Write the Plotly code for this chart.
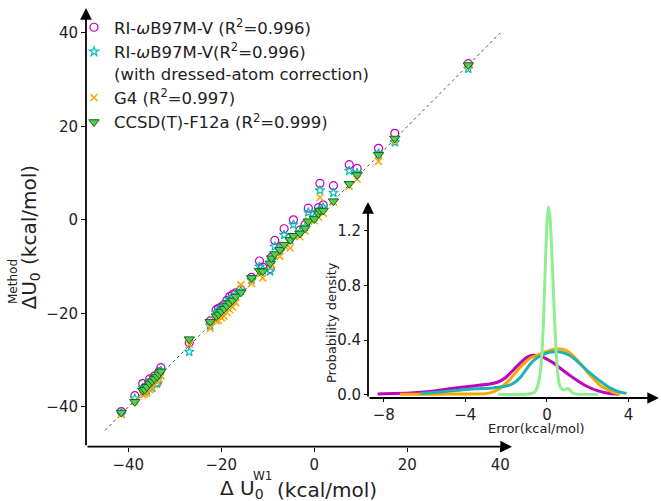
import plotly.graph_objects as go

W, H = 661, 501

# ---------------- data ----------------
w1 = [-41.5, -38.6, -36.9, -36.5, -36.0, -35.4, -34.9, -34.4, -33.8, -33.4, -33.0,
      -26.9, -22.4, -21.1, -20.6, -20.0, -19.4, -18.8, -18.2, -17.6, -16.9, -15.8,
      -13.5, -11.8, -11.1, -9.5, -9.2, -8.5, -7.4, -6.5, -5.2, -4.5, -3.1, -2.0,
      -1.3, 0.0, 0.9, 1.2, 1.9, 4.1, 7.5, 9.2, 13.8, 17.3, 33.1]
ri_wb97mv = [-41.0, -37.6, -35.0, -35.9, -35.6, -34.0, -34.5, -33.4, -34.8, -32.5, -31.6,
             -26.3, -21.6, -19.2, -18.9, -18.6, -18.1, -17.2, -16.4, -16.0, -15.6, -14.9,
             -12.3, -8.8, -10.1, -10.4, -8.0, -4.4, -6.0, -1.9, -3.8, 0.0, -2.2, -1.0,
             2.5, 1.0, 2.6, 7.8, 3.2, 7.3, 11.8, 11.0, 15.3, 18.5, 33.4]
ri_wb97mv_dac = [-41.3, -38.2, -35.9, -36.6, -36.5, -34.8, -35.9, -34.2, -35.0, -33.2, -32.3,
                 -28.2, -22.6, -19.8, -19.4, -19.2, -18.6, -17.8, -17.1, -16.6, -16.1, -15.2,
                 -12.8, -10.0, -10.6, -11.0, -8.6, -5.7, -6.5, -3.2, -4.3, -1.0, -2.6, -1.5,
                 1.6, 0.6, 2.0, 6.3, 2.6, 5.8, 10.5, 10.0, 14.2, 16.6, 32.3]
g4 = [-41.6, -38.9, -37.4, -37.2, -37.0, -36.3, -35.9, -35.2, -34.5, -34.0, -33.3,
      -26.6, -23.2, -21.6, -21.5, -20.9, -20.6, -19.8, -19.2, -18.6, -17.7, -13.9,
      -13.6, -11.2, -12.4, -9.8, -9.5, -7.6, -7.8, -5.6, -6.0, -3.5, -3.6, -2.4,
      -0.2, -0.2, 0.6, 4.8, 1.4, 3.8, 7.2, 8.7, 12.5, 16.8, 33.0]
ccsd_f12a = [-41.2, -38.9, -36.5, -36.3, -35.7, -35.0, -34.5, -34.0, -33.5, -33.0, -32.4,
             -25.5, -21.8, -20.6, -20.2, -19.6, -19.0, -18.4, -17.8, -17.2, -16.4, -15.5,
             -12.4, -10.9, -11.0, -9.3, -8.2, -7.3, -6.4, -5.3, -4.3, -3.4, -2.9, -1.8,
             -0.3, 0.2, 1.4, 2.0, 2.0, 4.0, 7.7, 9.6, 13.9, 17.4, 33.1]
diag_line = [-45, 40]

# error density curves (inset)
err_ri = [-8.3, -7.5, -6.5, -5.5, -4.8, -4.2, -3.5, -2.8, -2.4, -2.0, -1.6, -1.2, -0.9,
          -0.7, -0.4, -0.1, 0.3, 0.7, 1.1, 1.5, 2.0, 2.5, 3.0, 3.5]
dens_ri = [0.008, 0.01, 0.016, 0.03, 0.045, 0.057, 0.068, 0.08, 0.095, 0.13, 0.19, 0.25, 0.282,
           0.29, 0.285, 0.27, 0.235, 0.19, 0.145, 0.104, 0.06, 0.03, 0.013, 0.006]
err_g4 = [-7.2, -5.5, -4.0, -3.0, -2.6, -2.2, -1.8, -1.5, -1.2, -0.8, -0.5, -0.2, 0.2, 0.5,
          0.8, 1.1, 1.6, 2.0, 2.3, 2.6, 2.9, 3.3, 3.6]
dens_g4 = [0.006, 0.006, 0.007, 0.01, 0.025, 0.06, 0.116, 0.17, 0.22, 0.27, 0.29, 0.31, 0.328,
           0.337, 0.333, 0.31, 0.235, 0.165, 0.116, 0.07, 0.044, 0.015, 0.006]
err_dac = [-6.2, -5.2, -4.3, -3.5, -2.8, -2.4, -2.0, -1.6, -1.3, -1.0, -0.8, -0.5, -0.2, 0.15,
           0.47, 0.96, 1.3, 1.6, 2.0, 2.4, 2.8, 3.1, 3.5, 3.9]
dens_dac = [0.01, 0.022, 0.035, 0.045, 0.05, 0.057, 0.065, 0.09, 0.13, 0.19, 0.23, 0.27, 0.295,
            0.312, 0.318, 0.3, 0.27, 0.23, 0.175, 0.125, 0.08, 0.05, 0.025, 0.012]
err_ccsd = [-2.4, -1.0, -0.6, -0.45, -0.3, -0.18, -0.08, 0.0, 0.07, 0.15, 0.25, 0.33, 0.42,
            0.52, 0.62, 0.75, 0.9, 1.0, 1.1, 1.25, 1.5, 2.5]
dens_ccsd = [0.005, 0.005, 0.02, 0.07, 0.2, 0.5, 0.95, 1.25, 1.375, 1.3, 1.0, 0.7, 0.4,
             0.17, 0.07, 0.04, 0.04, 0.048, 0.04, 0.015, 0.006, 0.005]

main_ticks = [-40, -20, 0, 20, 40]
inset_xticks = [-8, -4, 0, 4]
inset_yticks = [0.0, 0.4, 0.8, 1.2]

legend_names = [
    "RI-<i>ω</i>B97M-V (R<sup>2</sup>=0.996)",
    "RI-<i>ω</i>B97M-V(R<sup>2</sup>=0.996)<br>(with dressed-atom correction)",
    "G4 (R<sup>2</sup>=0.997)",
    "CCSD(T)-F12a (R<sup>2</sup>=0.999)",
]

MAG = "#BF00BF"
CYA = "#00BFBF"
ORA = "#FFA500"
TEAL = "#1DB3B3"
LGREEN = "#90EE90"
TXT = "#222222"
FONT = "DejaVu Sans"

# ---------------- pixel helpers for layout ----------------
def px(x):
    return x / W

def py(y):
    return 1 - y / H

fig = go.Figure()

# diagonal reference line
fig.add_trace(go.Scatter(x=diag_line, y=diag_line, mode="lines",
                         line=dict(color="#555555", width=1, dash="dot"),
                         showlegend=False, hoverinfo="skip"))

fig.add_trace(go.Scatter(x=w1, y=ri_wb97mv, mode="markers", name=legend_names[0],
                         marker=dict(symbol="circle-open", size=8, color=MAG,
                                     line=dict(width=1.2, color=MAG)),
                         legendgroup="a"))
fig.add_trace(go.Scatter(x=w1, y=ri_wb97mv_dac, mode="markers", name=legend_names[1],
                         marker=dict(symbol="star-open", size=7, color=CYA,
                                     line=dict(width=1.2, color=CYA)),
                         legendgroup="b"))
fig.add_trace(go.Scatter(x=w1, y=g4, mode="markers", name=legend_names[2],
                         marker=dict(symbol="x-thin-open", size=7, color=ORA,
                                     line=dict(width=1.5, color=ORA)),
                         legendgroup="c"))
fig.add_trace(go.Scatter(x=w1, y=ccsd_f12a, mode="markers", name=legend_names[3],
                         marker=dict(symbol="triangle-down", size=9, color="#5CC85C",
                                     line=dict(width=1, color="#0B6E0B")),
                         legendgroup="d"))

# inset density curves
for ex, dy, col, wdt in [(err_ri, dens_ri, MAG, 3), (err_g4, dens_g4, ORA, 3),
                         (err_dac, dens_dac, TEAL, 3), (err_ccsd, dens_ccsd, LGREEN, 3)]:
    fig.add_trace(go.Scatter(x=ex, y=dy, mode="lines", xaxis="x2", yaxis="y2",
                             line=dict(color=col, width=wdt, shape="spline", smoothing=0.6),
                             showlegend=False, hoverinfo="skip"))

# axes geometry (pixels)
MX0, MX1 = 86, 512
MY0, MY1 = 446.7, 8
IX0, IX1 = 368, 659
IY0, IY1 = 398, 202

axis_common = dict(showgrid=False, zeroline=False, showline=False, ticks="outside",
                   ticklen=4, tickwidth=1, tickcolor="black",
                   tickfont=dict(family=FONT, size=15, color=TXT), automargin=False)

fig.update_layout(
    width=W, height=H,
    margin=dict(l=0, r=0, t=0, b=0),
    paper_bgcolor="white", plot_bgcolor="rgba(0,0,0,0)",
    template="none",
    font=dict(family=FONT, color=TXT),
    xaxis=dict(domain=[px(MX0), px(MX1)], range=[-49.1, 42.5], tickvals=main_ticks,
               anchor="y", **axis_common),
    yaxis=dict(domain=[py(MY0), py(MY1)], range=[-48.5, 45.3], tickvals=main_ticks,
               anchor="x", **axis_common),
    xaxis2=dict(domain=[px(IX0), px(IX1)], range=[-8.77, 5.49], tickvals=inset_xticks,
                anchor="y2", **axis_common),
    yaxis2=dict(domain=[py(IY0), py(IY1)], range=[-0.022, 1.41], tickvals=inset_yticks,
                tickformat=".1f", anchor="x2", **axis_common),
    legend=dict(x=px(74), y=py(10), xanchor="left", yanchor="top",
                bgcolor="rgba(0,0,0,0)", borderwidth=0,
                font=dict(family=FONT, size=16.5, color=TXT),
                valign="top", tracegroupgap=7, traceorder="normal"),
    showlegend=True,
)
fig.update_xaxes(selector=dict(anchor="y2"), ticklen=3)
fig.update_yaxes(selector=dict(anchor="x2"), ticklen=3)

ann = []
# axis lines with arrow heads
def arrow(x_head, y_head, x_tail, y_tail):
    return dict(x=px(x_head), y=py(y_head), xref="paper", yref="paper",
                ax=x_tail - x_head, ay=y_tail - y_head, axref="pixel", ayref="pixel",
                text="", showarrow=True, arrowhead=2, arrowsize=1.3, arrowwidth=1.8,
                arrowcolor="black", standoff=0, startstandoff=0)

ann.append(arrow(MX0, MY1, MX0, MY0))
ann.append(arrow(MX1, MY0, MX0, MY0))
ann.append(arrow(IX0, IY1, IX0, IY0))
ann.append(arrow(IX1, IY0, IX0, IY0))

# main axis titles
ann.append(dict(x=px(218), y=py(489), xref="paper", yref="paper", xanchor="left", yanchor="middle",
                text="Δ U<sub>0</sub>", showarrow=False, font=dict(family=FONT, size=20, color=TXT)))
ann.append(dict(x=px(251), y=py(476), xref="paper", yref="paper", xanchor="left", yanchor="middle",
                text="W1", showarrow=False, font=dict(family=FONT, size=12, color=TXT)))
ann.append(dict(x=px(275), y=py(490), xref="paper", yref="paper", xanchor="left", yanchor="middle",
                text="(kcal/mol)", showarrow=False, font=dict(family=FONT, size=20, color=TXT)))

ann.append(dict(x=px(29), y=py(312), xref="paper", yref="paper", xanchor="center", yanchor="bottom",
                text="ΔU<sub>0</sub>", textangle=-90, showarrow=False,
                font=dict(family=FONT, size=20, color=TXT)))
ann.append(dict(x=px(13), y=py(282), xref="paper", yref="paper", xanchor="center", yanchor="middle",
                text="Method", textangle=-90, showarrow=False,
                font=dict(family=FONT, size=12, color=TXT)))
ann.append(dict(x=px(29), y=py(215), xref="paper", yref="paper", xanchor="center", yanchor="middle",
                text="(kcal/mol)", textangle=-90, showarrow=False,
                font=dict(family=FONT, size=20, color=TXT)))

# inset axis titles
ann.append(dict(x=px(536), y=py(428.5), xref="paper", yref="paper", xanchor="center", yanchor="middle",
                text="Error(kcal/mol)", showarrow=False, font=dict(family=FONT, size=13, color=TXT)))
ann.append(dict(x=px(331), y=py(323), xref="paper", yref="paper", xanchor="center", yanchor="middle",
                text="Probability density", textangle=-90, showarrow=False,
                font=dict(family=FONT, size=13, color=TXT)))

fig.update_layout(annotations=ann)

fig.write_html("out.html", config={"displayModeBar": False},
               post_script="document.body.style.margin='0px';document.body.style.overflow='hidden';")
